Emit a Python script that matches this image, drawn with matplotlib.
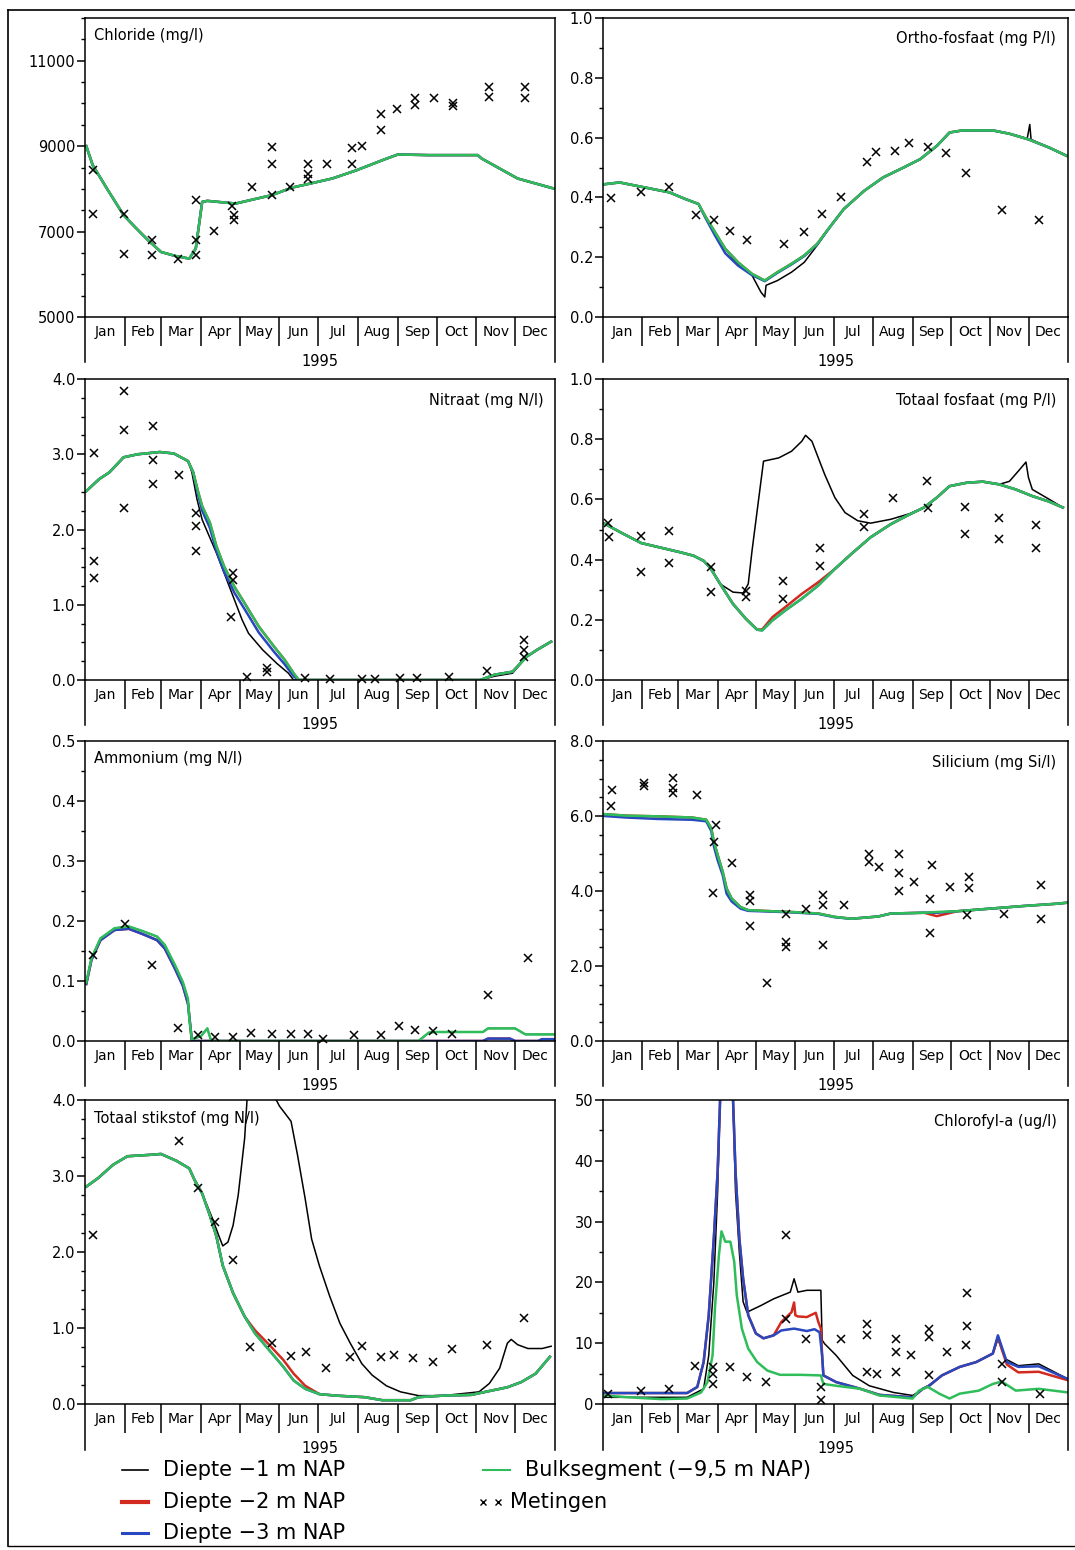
import numpy as np
import matplotlib.pyplot as plt

plt.rcParams['font.family'] = 'DejaVu Sans'

months = ['Jan', 'Feb', 'Mar', 'Apr', 'May', 'Jun', 'Jul', 'Aug', 'Sep', 'Oct', 'Nov', 'Dec']
month_start = [0, 31, 59, 90, 120, 151, 181, 212, 243, 273, 304, 334, 365]
year_label = '1995'

# ---- Chloride (mg/l)
cl_d = [1, 6, 17, 30, 40, 49, 59, 70, 81, 86, 91, 95, 117, 128, 145, 161, 175, 192, 211, 231, 243, 267, 305, 308, 336, 364]
cl_g = [9000, 8555, 8008, 7383, 7070, 6797, 6523, 6430, 6367, 6600, 7695, 7719, 7656, 7734, 7852, 8031, 8125, 8242,
        8437, 8672, 8805, 8790, 8790, 8711, 8242, 8008]
cl_md = [6, 6, 30, 30, 52, 52, 72, 86, 86, 86, 100, 114, 116, 116, 130, 145, 145, 145, 159, 173, 173, 173, 188, 207,
         207, 215, 230, 230, 242, 256, 256, 271, 286, 286, 314, 314, 342, 342]
cl_mv = [8437, 7422, 7422, 6484, 6797, 6445, 6367, 7734, 6797, 6445, 7008, 7602, 7383, 7266, 8047, 8969, 8578, 7867,
         8047, 8578, 8359, 8242, 8578, 8945, 8578, 9008, 9742, 9375, 9859, 10117, 9961, 10117, 10000, 9945, 10375,
         10140, 10390, 10117]

# ---- Ortho-fosfaat (mg P/l)
op_d = [1, 13, 26, 39, 52, 65, 75, 80, 88, 96, 106, 117, 127, 137, 148, 158, 168, 179, 189, 205, 220, 236, 249, 262,
        272, 282, 306, 319, 334, 350, 364]
op_g = [0.444, 0.45, 0.439, 0.428, 0.417, 0.394, 0.378, 0.339, 0.283, 0.228, 0.183, 0.144, 0.122, 0.15, 0.178, 0.206,
        0.244, 0.306, 0.361, 0.422, 0.467, 0.5, 0.528, 0.572, 0.617, 0.624, 0.624, 0.613, 0.594, 0.567, 0.539]
op_b = [0.444, 0.45, 0.439, 0.428, 0.417, 0.394, 0.378, 0.335, 0.272, 0.213, 0.172, 0.14, 0.12, 0.148, 0.176, 0.204,
        0.242, 0.306, 0.361, 0.422, 0.467, 0.5, 0.528, 0.572, 0.617, 0.624, 0.624, 0.613, 0.594, 0.567, 0.539]
op_kd = [1, 13, 26, 39, 52, 65, 75, 80, 88, 96, 106, 117, 124, 127, 128, 137, 148, 158, 168, 179, 189, 205, 220, 236,
         249, 262, 272, 282, 306, 319, 333, 335, 336, 350, 364]
op_k = [0.444, 0.45, 0.439, 0.428, 0.417, 0.394, 0.378, 0.339, 0.283, 0.228, 0.175, 0.139, 0.083, 0.067, 0.106, 0.122,
        0.15, 0.183, 0.239, 0.306, 0.361, 0.422, 0.467, 0.5, 0.528, 0.572, 0.617, 0.624, 0.624, 0.613, 0.597, 0.644,
        0.594, 0.567, 0.539]
op_md = [6, 30, 52, 73, 87, 100, 113, 142, 158, 172, 187, 207, 214, 229, 240, 255, 269, 285, 313, 342]
op_mv = [0.397, 0.417, 0.436, 0.341, 0.326, 0.289, 0.256, 0.244, 0.283, 0.344, 0.4, 0.52, 0.552, 0.556, 0.583, 0.567,
         0.55, 0.481, 0.359, 0.324]

# ---- Nitraat (mg N/l)
ni_d = [1, 11, 19, 30, 41, 58, 69, 80, 84, 88, 91, 97, 102, 108, 116, 124, 135, 147, 155, 162, 166, 307, 318, 332, 343,
        351, 362]
ni_g = [2.51, 2.67, 2.76, 2.96, 3.0, 3.03, 3.01, 2.91, 2.76, 2.49, 2.31, 2.09, 1.78, 1.51, 1.24, 1.02, 0.71, 0.44, 0.27,
        0.09, 0.0, 0.0, 0.07, 0.11, 0.31, 0.4, 0.51]
ni_b = [2.51, 2.67, 2.76, 2.96, 3.0, 3.03, 3.01, 2.91, 2.76, 2.45, 2.25, 2.02, 1.72, 1.44, 1.16, 0.94, 0.63, 0.37, 0.21,
        0.05, 0.0, 0.0, 0.07, 0.11, 0.31, 0.4, 0.51]
ni_kd = [1, 11, 19, 30, 41, 58, 69, 80, 83, 87, 91, 102, 111, 122, 127, 138, 149, 158, 162, 307, 318, 332, 343, 351, 362]
ni_k = [2.51, 2.67, 2.76, 2.96, 3.0, 3.03, 3.01, 2.91, 2.76, 2.4, 2.13, 1.69, 1.29, 0.8, 0.62, 0.4, 0.22, 0.09, 0.0, 0.0,
        0.05, 0.09, 0.31, 0.4, 0.51]
ni_md = [7, 30, 30, 30, 7, 7, 53, 53, 53, 73, 86, 86, 86, 115, 115, 113, 126, 141, 141, 171, 190, 215, 225, 245, 258,
         283, 312, 341, 341, 341]
ni_mv = [3.01, 3.84, 3.32, 2.28, 1.58, 1.36, 3.38, 2.92, 2.6, 2.73, 2.22, 2.04, 1.71, 1.42, 1.33, 0.84, 0.04, 0.16, 0.11,
         0.02, 0.01, 0.01, 0.01, 0.03, 0.02, 0.04, 0.12, 0.53, 0.4, 0.31]

# ---- Totaal fosfaat (mg P/l)
tp_d = [1, 14, 30, 45, 61, 71, 79, 84, 92, 102, 112, 121, 125, 133, 143, 156, 169, 182, 195, 210, 226, 241, 252, 262,
        272, 285, 298, 311, 324, 337, 350, 361]
tp_g = [0.52, 0.49, 0.455, 0.44, 0.424, 0.413, 0.396, 0.374, 0.319, 0.253, 0.204, 0.167, 0.165, 0.198, 0.231, 0.27,
        0.314, 0.369, 0.419, 0.474, 0.518, 0.551, 0.573, 0.606, 0.644, 0.655, 0.659, 0.65, 0.633, 0.611, 0.593, 0.573]
tp_r = [0.52, 0.49, 0.455, 0.44, 0.424, 0.413, 0.396, 0.374, 0.319, 0.253, 0.204, 0.167, 0.168, 0.209, 0.242, 0.286,
        0.325, 0.369, 0.419, 0.474, 0.518, 0.551, 0.573, 0.606, 0.644, 0.655, 0.659, 0.65, 0.633, 0.611, 0.593, 0.573]
tp_kd = [1, 14, 30, 45, 61, 71, 79, 84, 92, 102, 110, 114, 117, 123, 126, 138, 148, 156, 159, 164, 169, 174, 182, 190,
         200, 210, 226, 241, 252, 262, 272, 285, 298, 311, 319, 326, 332, 334, 337, 350, 361]
tp_k = [0.52, 0.49, 0.455, 0.44, 0.424, 0.413, 0.396, 0.374, 0.319, 0.292, 0.289, 0.319, 0.43, 0.628, 0.727, 0.738,
        0.76, 0.793, 0.813, 0.793, 0.738, 0.683, 0.606, 0.556, 0.529, 0.521, 0.534, 0.553, 0.573, 0.606, 0.644, 0.655,
        0.659, 0.65, 0.66, 0.694, 0.724, 0.672, 0.633, 0.601, 0.573]
tp_md = [4, 5, 30, 30, 52, 52, 85, 85, 112, 112, 141, 141, 170, 170, 205, 205, 228, 254, 255, 284, 284, 311, 311, 340,
         340]
tp_mv = [0.523, 0.474, 0.479, 0.358, 0.496, 0.388, 0.374, 0.292, 0.297, 0.275, 0.33, 0.268, 0.438, 0.378, 0.551, 0.509,
         0.604, 0.661, 0.57, 0.575, 0.485, 0.537, 0.468, 0.514, 0.437]

# ---- Ammonium (mg N/l)
am_d = [1, 5, 12, 23, 34, 45, 56, 62, 70, 76, 80, 81, 83, 90, 95, 98, 259, 267, 273, 309, 313, 334, 342, 365]
am_g = [0.098, 0.138, 0.171, 0.188, 0.191, 0.183, 0.174, 0.16, 0.126, 0.098, 0.07, 0.037, 0.003, 0.008, 0.021, 0.0,
        0.0, 0.014, 0.015, 0.015, 0.021, 0.021, 0.011, 0.011]
am_bd = [1, 5, 12, 23, 34, 45, 56, 62, 70, 76, 80, 83, 90, 259, 309, 313, 330, 334, 342, 352, 355, 365]
am_b = [0.095, 0.135, 0.168, 0.185, 0.187, 0.178, 0.168, 0.154, 0.12, 0.092, 0.062, 0.0, 0.0, 0.0, 0.0, 0.004, 0.004,
        0.0, 0.0, 0.0, 0.003, 0.003]
am_md = [6, 31, 52, 72, 88, 101, 115, 129, 145, 160, 173, 185, 209, 230, 244, 256, 270, 285, 313, 344]
am_mv = [0.144, 0.195, 0.126, 0.022, 0.01, 0.007, 0.007, 0.014, 0.012, 0.012, 0.012, 0.004, 0.01, 0.01, 0.025, 0.018,
         0.017, 0.012, 0.076, 0.138]

# ---- Silicium (mg Si/l)
si_d = [1, 18, 44, 70, 81, 85, 87, 90, 94, 97, 101, 108, 114, 133, 148, 169, 182, 195, 216, 226, 252, 262, 278, 304, 330,
        356, 365]
si_g = [6.05, 6.01, 5.99, 5.96, 5.9, 5.67, 5.32, 4.96, 4.51, 4.07, 3.8, 3.57, 3.49, 3.46, 3.44, 3.4, 3.31, 3.26, 3.32,
        3.4, 3.42, 3.44, 3.46, 3.53, 3.6, 3.66, 3.69]
si_b = [6.0, 5.96, 5.92, 5.9, 5.86, 5.6, 5.2, 4.82, 4.42, 3.93, 3.72, 3.53, 3.47, 3.45, 3.43, 3.39, 3.3, 3.26, 3.32,
        3.4, 3.42, 3.42, 3.46, 3.53, 3.6, 3.66, 3.69]
si_r = [6.05, 6.01, 5.99, 5.96, 5.9, 5.67, 5.32, 4.96, 4.51, 4.07, 3.8, 3.57, 3.49, 3.46, 3.44, 3.4, 3.31, 3.26, 3.32,
        3.4, 3.42, 3.33, 3.46, 3.53, 3.6, 3.66, 3.69]
si_md = [7, 6, 32, 32, 55, 55, 55, 74, 89, 87, 86, 101, 115, 115, 115, 129, 144, 144, 144, 159, 173, 173, 173, 189, 209,
         209, 217, 232, 232, 232, 244, 258, 257, 257, 272, 287, 287, 286, 315, 344, 344]
si_mv = [6.7, 6.26, 6.88, 6.79, 7.01, 6.75, 6.61, 6.57, 5.76, 5.32, 3.96, 4.75, 3.89, 3.73, 3.08, 1.56, 3.4, 2.64, 2.5,
         3.53, 3.89, 3.62, 2.55, 3.64, 5.0, 4.78, 4.65, 4.98, 4.47, 3.99, 4.23, 4.69, 3.8, 2.89, 4.11, 4.38, 4.07, 3.35,
         3.4, 4.17, 3.26]

# ---- Totaal stikstof (mg N/l)
tn_d = [1, 10, 22, 33, 52, 59, 71, 81, 85, 91, 97, 102, 107, 115, 124, 132, 143, 154, 162, 171, 182, 195, 217, 231, 253,
        259, 278, 300, 311, 328, 339, 350, 361]
tn_g = [2.86, 2.97, 3.15, 3.26, 3.28, 3.29, 3.2, 3.1, 2.95, 2.77, 2.48, 2.21, 1.82, 1.46, 1.15, 0.93, 0.71, 0.49, 0.31,
        0.2, 0.13, 0.11, 0.09, 0.05, 0.05, 0.09, 0.11, 0.12, 0.16, 0.22, 0.29, 0.4, 0.62]
tn_r = [2.86, 2.97, 3.15, 3.26, 3.28, 3.29, 3.2, 3.1, 2.95, 2.77, 2.48, 2.21, 1.82, 1.46, 1.15, 0.97, 0.78, 0.58, 0.4,
        0.24, 0.13, 0.11, 0.09, 0.05, 0.05, 0.09, 0.11, 0.12, 0.16, 0.22, 0.29, 0.4, 0.62]
tn_kd = [1, 10, 22, 33, 52, 59, 71, 81, 85, 91, 99, 104, 107, 111, 115, 119, 124, 126, 133, 142, 147, 151, 160, 165, 171,
         176, 182, 190, 198, 206, 215, 223, 234, 245, 259, 278, 306, 314, 322, 328, 331, 336, 344, 355, 362]
tn_k = [2.86, 2.97, 3.15, 3.26, 3.28, 3.29, 3.2, 3.1, 2.95, 2.77, 2.44, 2.21, 2.08, 2.13, 2.35, 2.75, 3.5, 4.05, 4.6,
        4.5, 4.05, 3.92, 3.72, 3.28, 2.7, 2.17, 1.82, 1.42, 1.06, 0.8, 0.53, 0.38, 0.24, 0.16, 0.11, 0.11, 0.16, 0.27,
        0.47, 0.8, 0.85, 0.78, 0.73, 0.73, 0.76]
tn_md = [6, 73, 88, 101, 115, 128, 145, 160, 172, 187, 206, 215, 230, 240, 255, 270, 285, 312, 341]
tn_mv = [2.23, 3.46, 2.84, 2.39, 1.9, 0.75, 0.8, 0.63, 0.69, 0.47, 0.62, 0.76, 0.62, 0.65, 0.6, 0.55, 0.72, 0.78, 1.13]

# ---- Chlorofyl-a (ug/l)
ch_d = [1, 20, 46, 66, 77, 82, 86, 88, 91, 93, 96, 100, 103, 105, 109, 114, 121, 129, 139, 155, 171, 173, 183, 202, 217,
        243, 248, 255, 264, 272, 280, 295, 306, 313, 324, 342, 365]
ch_g = [1.4, 1.1, 0.8, 0.9, 1.9, 3.6, 8.0, 16.2, 24.5, 28.4, 26.7, 26.7, 23.4, 17.9, 12.4, 9.1, 6.9, 5.5, 4.8, 4.8, 4.7,
        3.3, 3.0, 2.5, 1.4, 0.9, 2.2, 2.8, 1.7, 0.9, 1.7, 2.2, 3.3, 3.7, 2.2, 2.5, 1.9]
ch_bd = [1, 46, 66, 74, 79, 83, 87, 90, 92, 97, 102, 104, 107, 110, 114, 120, 126, 134, 140, 150, 160, 166, 170, 172,
         173, 183, 202, 217, 243, 251, 256, 266, 280, 293, 306, 310, 313, 317, 326, 342, 365]
ch_b = [1.8, 1.8, 1.8, 2.8, 6.9, 14.6, 27.3, 38.3, 50.5, 56, 50.5, 38.3, 27.3, 20.6, 14.6, 11.6, 10.8, 11.3, 12.1, 12.4,
        12.0, 12.3, 11.8, 8.0, 4.7, 3.6, 2.5, 1.5, 1.1, 2.5, 3.0, 4.7, 6.1, 6.9, 8.3, 11.3, 9.4, 6.9, 6.1, 6.2, 4.1]
ch_rd = [1, 46, 66, 74, 79, 83, 87, 90, 92, 97, 102, 104, 107, 110, 114, 120, 126, 134, 140, 148, 150, 151, 153, 160,
         167, 169, 171, 172, 173, 183, 202, 217, 243, 251, 256, 266, 280, 293, 306, 310, 313, 317, 326, 342, 365]
ch_r = [1.8, 1.8, 1.8, 2.8, 6.9, 14.6, 27.3, 38.3, 50.5, 56, 50.5, 38.3, 27.3, 20.6, 14.6, 11.6, 10.8, 11.3, 13.5, 15.1,
        16.7, 14.6, 14.4, 14.3, 15.0, 13.5, 12.4, 8.0, 4.7, 3.6, 2.5, 1.5, 1.1, 2.5, 3.0, 4.7, 6.1, 6.9, 8.3, 11.0, 9.0,
        6.5, 5.2, 5.3, 3.9]
ch_kd = [1, 66, 79, 83, 87, 90, 92, 97, 102, 104, 107, 110, 113, 124, 134, 147, 150, 153, 160, 171, 172, 174, 183, 196,
         209, 228, 243, 254, 266, 280, 293, 306, 310, 316, 326, 342, 365]
ch_k = [1.1, 1.1, 2.5, 8.0, 20, 35, 50.5, 55, 50.5, 35, 25, 16.8, 15.1, 16.2, 17.3, 18.4, 20.6, 18.4, 18.7, 18.7, 10.5,
        9.9, 8.0, 4.7, 3.0, 1.9, 1.4, 2.8, 4.7, 6.1, 6.9, 8.3, 10.7, 7.4, 6.3, 6.6, 4.1]
ch_md = [4, 30, 52, 72, 86, 86, 86, 100, 113, 128, 144, 144, 159, 171, 171, 187, 207, 207, 207, 215, 230, 230, 230, 242,
         256, 256, 256, 270, 286, 286, 285, 313, 313, 343]
ch_mv = [1.7, 2.2, 2.5, 6.3, 6.1, 5.0, 3.3, 6.1, 4.4, 3.6, 27.8, 14.0, 10.7, 2.8, 0.6, 10.7, 13.2, 11.3, 5.2, 5.0, 10.7,
         8.5, 5.2, 8.0, 12.4, 11.0, 4.7, 8.5, 18.3, 12.9, 9.7, 6.6, 3.6, 1.7]

BLACK = 'black'
RED = '#d22a1e'
BLUE = '#2848c0'
GREEN = '#2fbd5a'

fig = plt.figure(figsize=(10.75, 15.5), dpi=100)

# axes rectangles in pixels: (left, top, right, bottom)
lx0, lx1 = 85, 555
rx0, rx1 = 603, 1068
rows = [(18, 317), (379, 680), (741, 1041), (1100, 1404)]


def make_ax(col, row):
    x0, x1 = (lx0, lx1) if col == 0 else (rx0, rx1)
    t, b = rows[row]
    return fig.add_axes([x0 / 1075, 1 - b / 1550, (x1 - x0) / 1075, (b - t) / 1550])


def style(ax, title, ylim, major, minor, fmt, title_left):
    ax.set_xlim(0, 365)
    ax.set_ylim(*ylim)
    ax.set_yticks(np.arange(ylim[0], ylim[1] + major / 2, major))
    ax.set_yticks(np.arange(ylim[0], ylim[1] + minor / 2, minor), minor=True)
    ax.set_yticklabels([fmt % v for v in np.arange(ylim[0], ylim[1] + major / 2, major)])
    ax.tick_params(axis='y', which='major', direction='out', length=6, width=1.1, labelsize=10.5, pad=1)
    ax.tick_params(axis='y', which='minor', direction='out', length=3, width=1)
    # month separators and labels
    ax.set_xticks(month_start[1:-1])
    ax.set_xticklabels([])
    ax.set_xticks([(month_start[i] + month_start[i + 1]) / 2 for i in range(12)], minor=True)
    ax.set_xticklabels(months, minor=True)
    ax.tick_params(axis='x', which='major', direction='out', length=21, width=1.1)
    ax.tick_params(axis='x', which='minor', length=0, labelsize=10, pad=6)
    ax.set_xlabel(year_label, fontsize=10.5, labelpad=2)
    for s in ax.spines.values():
        s.set_linewidth(1.1)
    # spines continue down past the month row
    ax.plot([0, 0], [0, -0.15], transform=ax.transAxes, color='black', lw=1.1, clip_on=False)
    ax.plot([1, 1], [0, -0.15], transform=ax.transAxes, color='black', lw=1.1, clip_on=False)
    if title_left:
        ax.text(0.02, 0.965, title, transform=ax.transAxes, ha='left', va='top', fontsize=10.5)
    else:
        ax.text(0.975, 0.955, title, transform=ax.transAxes, ha='right', va='top', fontsize=10.5)


def draw(ax, kd, k, rd, r, bd, b, gd, g, md, mv):
    ax.plot(kd, k, color=BLACK, lw=1.1)
    ax.plot(rd, r, color=RED, lw=1.8)
    ax.plot(bd, b, color=BLUE, lw=1.8)
    ax.plot(gd, g, color=GREEN, lw=1.8)
    ax.plot(md, mv, 'x', color='black', ms=6, mew=1.1, clip_on=False)


ax = make_ax(0, 0)
draw(ax, cl_d, cl_g, cl_d, cl_g, cl_d, cl_g, cl_d, cl_g, cl_md, cl_mv)
style(ax, 'Chloride (mg/l)', (5000, 12000), 2000, 500, '%d', True)
ax.set_yticks([5000, 7000, 9000, 11000])
ax.set_yticklabels(['5000', '7000', '9000', '11000'])

ax = make_ax(1, 0)
draw(ax, op_kd, op_k, op_d, op_g, op_d, op_b, op_d, op_g, op_md, op_mv)
style(ax, 'Ortho-fosfaat (mg P/l)', (0, 1.0), 0.2, 0.1, '%.1f', False)

ax = make_ax(0, 1)
draw(ax, ni_kd, ni_k, ni_d, ni_g, ni_d, ni_b, ni_d, ni_g, ni_md, ni_mv)
style(ax, 'Nitraat (mg N/l)', (0, 4.0), 1.0, 0.25, '%.1f', False)

ax = make_ax(1, 1)
draw(ax, tp_kd, tp_k, tp_d, tp_r, tp_d, tp_g, tp_d, tp_g, tp_md, tp_mv)
style(ax, 'Totaal fosfaat (mg P/l)', (0, 1.0), 0.2, 0.1, '%.1f', False)

ax = make_ax(0, 2)
draw(ax, am_d, am_g, am_bd, am_b, am_bd, am_b, am_d, am_g, am_md, am_mv)
style(ax, 'Ammonium (mg N/l)', (0, 0.5), 0.1, 0.05, '%.1f', True)

ax = make_ax(1, 2)
draw(ax, si_d, si_g, si_d, si_r, si_d, si_b, si_d, si_g, si_md, si_mv)
style(ax, 'Silicium (mg Si/l)', (0, 8.0), 2.0, 0.5, '%.1f', False)

ax = make_ax(0, 3)
draw(ax, tn_kd, tn_k, tn_d, tn_r, tn_d, tn_g, tn_d, tn_g, tn_md, tn_mv)
style(ax, 'Totaal stikstof (mg N/l)', (0, 4.0), 1.0, 0.25, '%.1f', True)

ax = make_ax(1, 3)
draw(ax, ch_kd, ch_k, ch_rd, ch_r, ch_bd, ch_b, ch_d, ch_g, ch_md, ch_mv)
style(ax, 'Chlorofyl-a (ug/l)', (0, 50), 10, 5, '%d', False)

# outer frame of the page
fig.add_artist(plt.Line2D([8 / 1075, 8 / 1075], [1 - 10 / 1550, 1 - 1546 / 1550], color='black', lw=1.2))
fig.add_artist(plt.Line2D([8 / 1075, 1], [1 - 10 / 1550, 1 - 10 / 1550], color='black', lw=1.2))
fig.add_artist(plt.Line2D([8 / 1075, 1], [1 - 1546 / 1550, 1 - 1546 / 1550], color='black', lw=1.0))

# legend
leg = [(1470, BLACK, 1.2, 'Diepte \u22121 m NAP'),
       (1502, RED, 3.0, 'Diepte \u22122 m NAP'),
       (1533, BLUE, 2.2, 'Diepte \u22123 m NAP')]
for y, c, w, txt in leg:
    yf = 1 - y / 1550
    fig.add_artist(plt.Line2D([122 / 1075, 148 / 1075], [yf, yf], color=c, lw=w))
    fig.text(163 / 1075, yf, txt, fontsize=15, va='center', ha='left')
yf = 1 - 1470 / 1550
fig.add_artist(plt.Line2D([483 / 1075, 510 / 1075], [yf, yf], color=GREEN, lw=1.5))
fig.text(525 / 1075, yf, 'Bulksegment (\u22129,5 m NAP)', fontsize=15, va='center', ha='left')
yf = 1 - 1502 / 1550
fig.add_artist(plt.Line2D([483 / 1075, 498 / 1075], [yf, yf], color='black', ls='none', marker='x', ms=5, mew=1))
fig.text(510 / 1075, yf, 'Metingen', fontsize=15, va='center', ha='left')

fig.savefig('out.png', dpi=100)
